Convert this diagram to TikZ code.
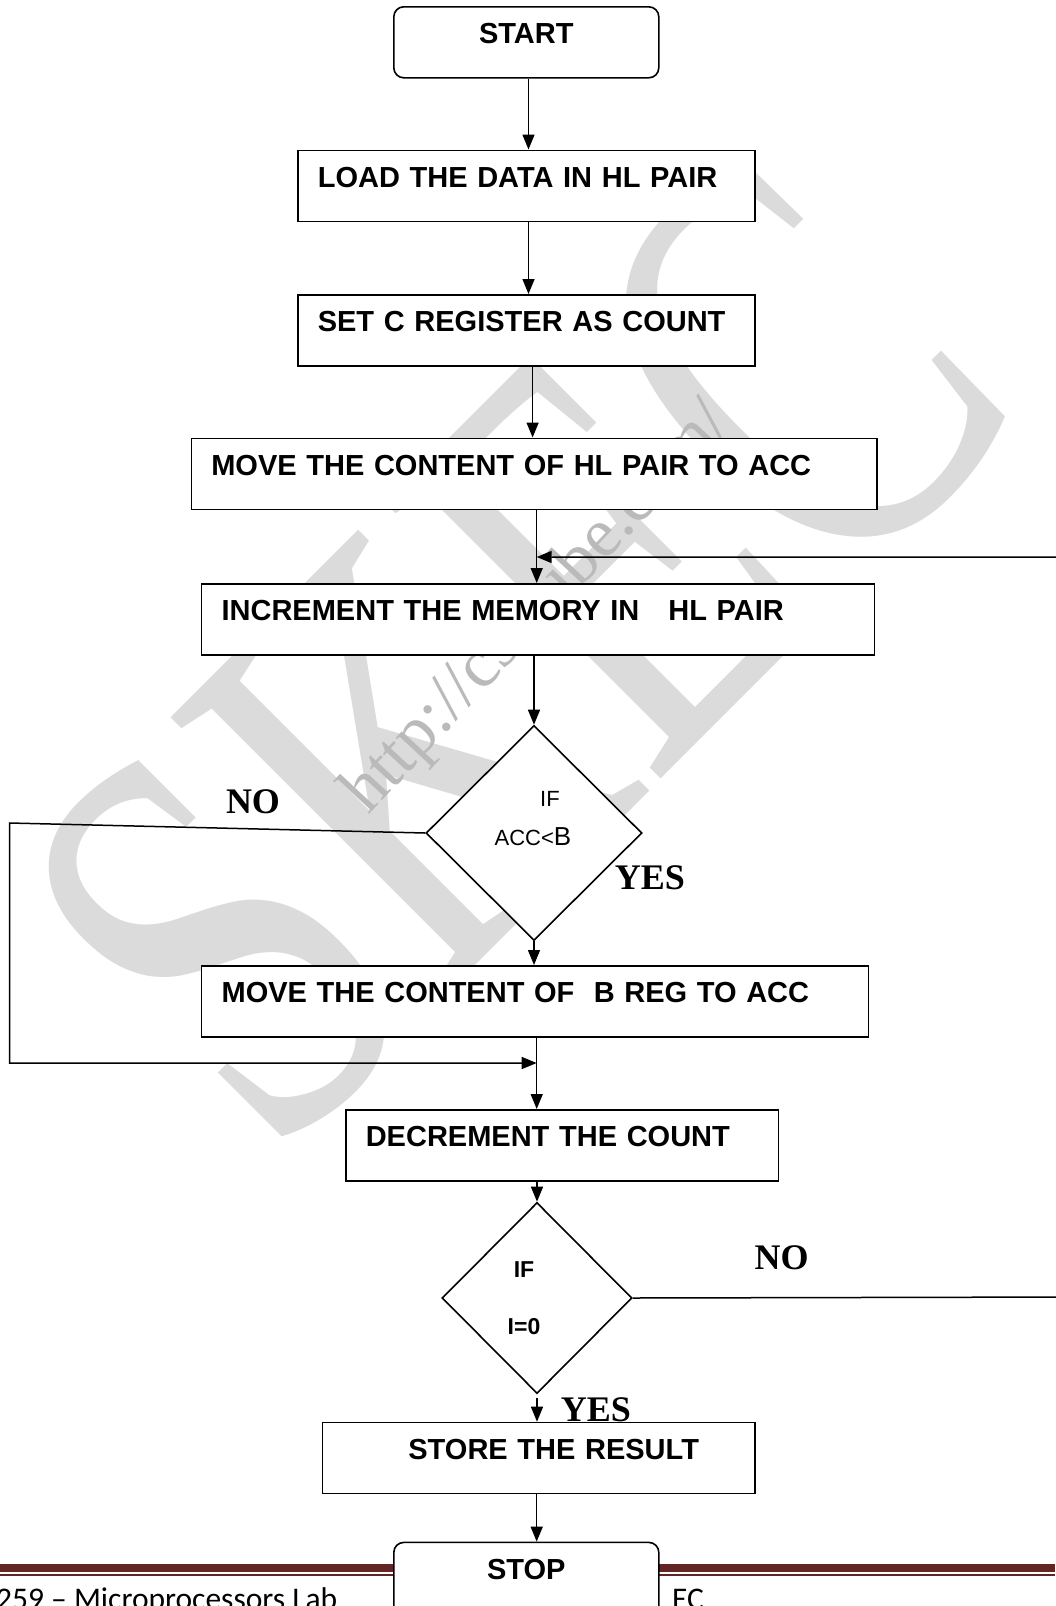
\documentclass[tikz,border=0pt]{standalone}
\usepackage{fontspec}
\setmainfont{Liberation Sans}
\newfontfamily\timesf{Liberation Serif}
\newfontfamily\calib{Carlito}
\usetikzlibrary{shapes.geometric,arrows.meta}
\definecolor{footred}{HTML}{632523}
\begin{document}
\begin{tikzpicture}[x=1pt,y=-1pt,
  box/.style={draw, line width=1.6pt, fill=white, anchor=north west, align=left,
    inner xsep=20pt, inner ysep=0pt, text height=37pt, text depth=34pt,
    font=\fontsize{29}{29}\selectfont\bfseries},
  term/.style={box, rounded corners=10pt, align=center},
  dia/.style={draw, diamond, line width=1.6pt, fill=white, inner sep=0pt},
  conn/.style={line width=1.5pt, -{Triangle[length=15pt,width=12pt]}},
  yn/.style={font=\timesf\fontsize{36}{36}\selectfont\bfseries, inner sep=0pt},
  ditext/.style={inner sep=0pt, font=\fontsize{22}{22}\selectfont},
  ditextb/.style={inner sep=0pt, font=\fontsize{23}{23}\selectfont\bfseries},
  wmark/.style={inner sep=0pt, text=black!14, font=\timesf\fontsize{420}{420}\selectfont},
  wurl/.style={inner sep=0pt, text=black!27, font=\timesf\fontsize{70}{70}\selectfont},
  foot/.style={inner sep=0pt, font=\calib\fontsize{31.5}{31.5}\selectfont}]
\useasboundingbox (0,0) rectangle (1055,1606);
\fill[white] (0,0) rectangle (1055,1606);

% watermark
\node[wmark, rotate=45, yscale=1.42] (wm) at (515,650) {SKEC};
\node[wurl, rotate=47, anchor=base west] (url) at (368,816) {http://csetube.com/};

% footer
\fill[footred] (0,1564) rectangle (1055,1571.5);
\fill[footred] (0,1573.5) rectangle (1055,1575.5);
\node[foot, anchor=base west] (ft1) at (-4,1609) {259 – Microprocessors Lab};
\node[foot, anchor=base west] (ft2) at (672,1609) {EC};

% boxes
\node[term, text width=225pt] (start) at (393,6) {START};
\node[box, text width=417pt] (load) at (297,149.5) {LOAD THE DATA IN HL PAIR};
\node[box, text width=417pt] (set) at (297,294) {SET C REGISTER AS COUNT};
\node[box, text width=645.5pt] (move) at (190.5,437.5) {MOVE THE CONTENT OF HL PAIR TO ACC};
\node[box, text width=633pt] (inc) at (200.8,583) {INCREMENT THE MEMORY IN~~~HL PAIR};
\node[dia, minimum width=216pt, minimum height=215pt] (d1) at (534,833) {};
\node[box, text width=627pt] (moveb) at (200.8,965) {MOVE THE CONTENT OF~~B REG TO ACC};
\node[box, text width=392.5pt] (dec) at (345,1109) {DECREMENT THE COUNT};
\node[dia, minimum width=190pt, minimum height=191pt] (d2) at (537,1298) {};
\node[box, text width=392.4pt] (store) at (321.6,1421.7) {\hspace*{66pt}STORE THE RESULT};
\node[term, text width=225pt, text depth=90pt] (stop) at (393,1541.6) {STOP};

% diamond texts
\node[ditext] (d1if) at (550,799) {IF};
\node[ditext] (d1acc) at (533,837) {ACC<{\fontsize{26}{26}\selectfont B}};
\node[ditextb] (d2if) at (524,1270) {IF};
\node[ditextb] (d2i) at (524,1327) {I=0};

% coordinates
\coordinate (xa) at (528.5,0);
\coordinate (xb) at (532.6,0);
\coordinate (xc) at (536.7,0);
\coordinate (l1) at (9.5,823);
\coordinate (l2) at (9.5,1063);
\coordinate (lj) at (536.7,1063);
\coordinate (r1) at (1075,1297);
\coordinate (r2) at (1075,557);
\coordinate (rj) at (536.7,557);

% connectors
\draw[conn] (start.south -| xa) -- (load.north -| xa);
\draw[conn] (load.south -| xa) -- (set.north -| xa);
\draw[conn] (set.south -| xb) -- (move.north -| xb);
\draw[conn] (move.south -| xc) -- (inc.north -| xc);
\draw[conn] (inc.south -| d1.north) -- (d1.north);
\draw[conn] (d1.south) -- (d1.south |- moveb.north);
\draw[conn] (moveb.south -| xc) -- (dec.north -| xc);
\draw[conn] (dec.south -| d2.north) -- (d2.north);
\draw[conn] ([yshift=-4pt]d2.south) -- (d2.south |- store.north);
\draw[conn] (store.south -| xc) -- (stop.north -| xc);
\draw[conn] (d1.west) -- (l1) -- (l2) -- (lj);
\draw[conn] (d2.east) -- (r1) -- (r2) -- (rj);

% labels
\node[yn] (no1) at (253,802) {NO};
\node[yn] (yes1) at (650,878) {YES};
\node[yn] (no2) at (781.5,1258) {NO};
\node[yn] (yes2) at (596,1410) {YES};
\end{tikzpicture}
\end{document}
